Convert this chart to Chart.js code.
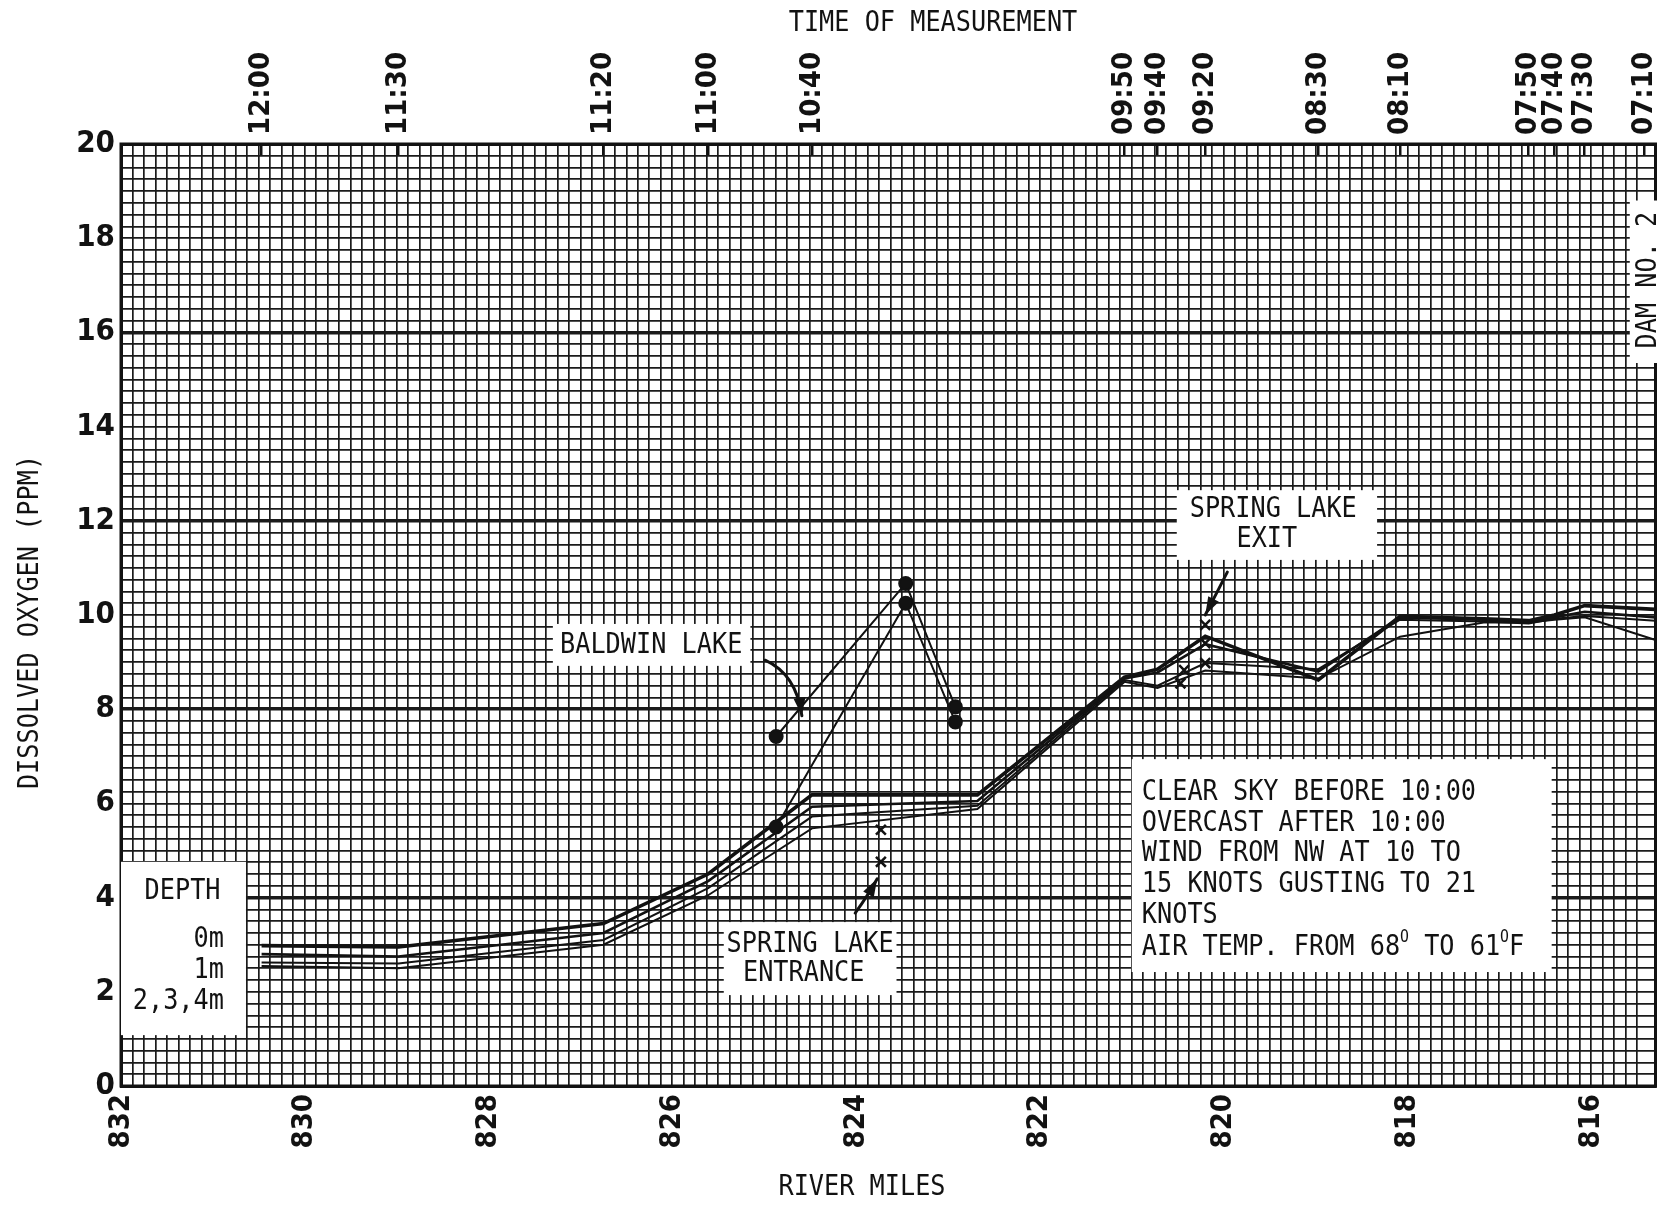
<!DOCTYPE html>
<html>
<head>
<meta charset="utf-8">
<title>Dissolved Oxygen Profile</title>
<script src="https://cdn.jsdelivr.net/npm/chart.js@4.4.1/dist/chart.umd.min.js"></script>
<style>
  html, body { margin: 0; padding: 0; background: #ffffff; }
  canvas { display: block; }
</style>
</head>
<body>
<canvas id="chart" width="1665" height="1205"></canvas>
<script>
// ---- Axis ranges ---------------------------------------------------------
const mileStart = 832;      // upstream end (left)
const mileEnd = 815.3;      // downstream end (right)
const ppmMin = 0;
const ppmMax = 20;

// ---- Time of measurement at each sampling station (top axis) -------------
const timeMiles  = [830.47, 828.98, 826.75, 825.61, 824.48, 821.08, 820.72, 820.20, 818.97, 818.08, 816.68, 816.40, 816.07, 815.42];
const timeLabels = ['12:00', '11:30', '11:20', '11:00', '10:40', '09:50', '09:40', '09:20', '08:30', '08:10', '07:50', '07:40', '07:30', '07:10'];

// ---- Main channel dissolved oxygen (ppm) by depth -------------------------
const lineMiles = [830.47, 828.98, 826.75, 825.61, 824.48, 822.68, 821.08, 820.72, 820.20, 818.97, 818.08, 817.17, 816.68, 816.40, 816.07, 815.30];
const do0m = [2.98, 2.95, 3.45, 4.50, 6.18, 6.18, 8.68, 8.85, 9.55, 8.62, 9.97, 9.92, 9.88, 10.00, 10.20, 10.12];
const do1m = [2.80, 2.75, 3.25, 4.35, 5.93, 6.05, 8.65, 8.78, 9.38, 8.80, 9.95, 9.90, 9.85, 9.95, 10.07, 9.95];
const do2m = [2.62, 2.60, 3.10, 4.20, 5.72, 5.95, 8.62, 8.50, 8.98, 8.85, 9.90, 9.86, 9.82, 9.92, 9.98, 9.88];
const do4m = [2.55, 2.50, 3.00, 4.05, 5.47, 5.88, 8.58, 8.45, 8.82, 8.65, 9.54, 9.84, 9.84, 9.90, 9.95, 9.47];

// ---- Baldwin Lake side samples -------------------------------------------
const baldwinMiles = [824.87, 823.46, 822.92];
const baldwinUpper = [7.42, 10.67, 8.05];
const baldwinLower = [5.50, 10.25, 7.73];

// ---- Spring Lake entrance / exit samples ----------------------------------
const entranceMiles = [823.73, 823.73];
const entranceDO    = [5.44, 4.76];
const exitMiles = [820.20, 820.20, 820.20, 820.43, 820.47];
const exitDO    = [9.79, 9.40, 8.98, 8.83, 8.55];

// ---- Note boxes and pointer arrows, in (river mile, ppm) -----------------
const depthBox    = [832.00, 830.64, 4.76, 1.08];
const baldwinBox  = [827.30, 825.15, 9.81, 8.92];
const exitBox     = [820.51, 818.33, 12.65, 11.17];
const entranceBox = [825.44, 823.56, 3.48, 1.93];
const weatherBox  = [821.00, 816.43, 6.94, 2.42];
const damBox      = [815.58, 815.30, 18.80, 15.35];

const baldwinArrow  = [[824.99, 9.04], [824.72, 8.80], [824.62, 8.30], [824.59, 7.86]];
const exitArrow     = [[819.96, 10.91], [820.08, 10.45], [820.20, 10.00]];
const entranceArrow = [[824.01, 3.67], [823.87, 4.05], [823.77, 4.40]];

const weatherLines = [
  'CLEAR SKY BEFORE 10:00',
  'OVERCAST AFTER 10:00',
  'WIND FROM NW AT 10 TO',
  '15 KNOTS GUSTING TO 21',
  'KNOTS'
];

// ---- Styling --------------------------------------------------------------
const INK = '#121212';
const TICK_FONT = "'Liberation Sans Narrow', 'DejaVu Sans Condensed', 'Liberation Sans', sans-serif";
const NOTE_FONT = "'DejaVu Sans Mono', 'Liberation Mono', monospace";
const NOTE_SIZE = 29;
const NOTE_SX = 0.87;
const TOP_TICK_SIZE = 29;

const pts = (xs, ys) => xs.map((x, i) => ({ x: x, y: ys[i] }));
const near = (a, b) => Math.abs(a - b) < 1e-6;
const isMultiple = (v, m) => near(v / m, Math.round(v / m));

function noteText(ctx, text, x, y, opts = {}) {
  ctx.save();
  ctx.translate(x, y);
  if (opts.rot) ctx.rotate(opts.rot);
  ctx.scale(opts.sx || NOTE_SX, 1);
  ctx.font = (opts.size || NOTE_SIZE) + 'px ' + NOTE_FONT;
  ctx.textAlign = opts.align || 'center';
  ctx.textBaseline = 'middle';
  ctx.fillStyle = INK;
  ctx.fillText(text, 0, 0);
  ctx.restore();
}

// Text with raised small "O" degree marks, drawn left-aligned
function noteRich(ctx, parts, x, y) {
  ctx.save();
  ctx.translate(x, y);
  ctx.scale(NOTE_SX, 1);
  ctx.textBaseline = 'middle';
  ctx.textAlign = 'left';
  ctx.fillStyle = INK;
  let cx = 0;
  parts.forEach(p => {
    const size = p.sup ? 17 : NOTE_SIZE;
    ctx.font = size + 'px ' + NOTE_FONT;
    ctx.fillText(p.t, cx, p.sup ? -9 : 0);
    cx += ctx.measureText(p.t).width;
  });
  ctx.restore();
}

function whiteBox(chart, box) {
  const { x, y } = chart.scales;
  const x0 = x.getPixelForValue(box[0]);
  const x1 = x.getPixelForValue(box[1]);
  const y0 = y.getPixelForValue(box[2]);
  const y1 = y.getPixelForValue(box[3]);
  const ctx = chart.ctx;
  ctx.fillStyle = '#ffffff';
  ctx.fillRect(Math.min(x0, x1), Math.min(y0, y1), Math.abs(x1 - x0), Math.abs(y1 - y0));
}

function arrow(chart, path) {
  const { x, y } = chart.scales;
  const p = path.map(q => [x.getPixelForValue(q[0]), y.getPixelForValue(q[1])]);
  const ctx = chart.ctx;
  ctx.save();
  ctx.strokeStyle = INK;
  ctx.fillStyle = INK;
  ctx.lineWidth = 3;
  ctx.lineCap = 'round';
  ctx.beginPath();
  ctx.moveTo(p[0][0], p[0][1]);
  if (p.length === 4) {
    ctx.bezierCurveTo(p[1][0], p[1][1], p[2][0], p[2][1], p[3][0], p[3][1]);
  } else {
    ctx.quadraticCurveTo(p[1][0], p[1][1], p[2][0], p[2][1]);
  }
  ctx.stroke();
  const a = p[p.length - 2], b = p[p.length - 1];
  const ang = Math.atan2(b[1] - a[1], b[0] - a[0]);
  const L = 18, W = 6;
  ctx.beginPath();
  ctx.moveTo(b[0], b[1]);
  ctx.lineTo(b[0] - L * Math.cos(ang) + W * Math.sin(ang), b[1] - L * Math.sin(ang) - W * Math.cos(ang));
  ctx.lineTo(b[0] - L * Math.cos(ang) - W * Math.sin(ang), b[1] - L * Math.sin(ang) + W * Math.cos(ang));
  ctx.closePath();
  ctx.fill();
  ctx.restore();
}

const notesPlugin = {
  id: 'notes',
  beforeDatasetsDraw(chart) {
    const ctx = chart.ctx;
    const { x, y } = chart.scales;
    const area = chart.chartArea;

    // plot frame
    ctx.save();
    ctx.strokeStyle = INK;
    ctx.lineWidth = 3;
    ctx.strokeRect(area.left, area.top, area.right - area.left, area.bottom - area.top);
    ctx.restore();

    // white note boxes over the grid
    [depthBox, baldwinBox, exitBox, entranceBox, weatherBox].forEach(b => whiteBox(chart, b));
    const dx0 = x.getPixelForValue(damBox[0]);
    const dy0 = y.getPixelForValue(damBox[2]);
    const dy1 = y.getPixelForValue(damBox[3]);
    ctx.fillStyle = '#ffffff';
    ctx.fillRect(dx0, dy0, chart.width - dx0, dy1 - dy0);

    // depth key
    noteText(ctx, 'DEPTH', x.getPixelForValue(831.33), y.getPixelForValue(4.12));
    noteText(ctx, '0m', x.getPixelForValue(830.88), y.getPixelForValue(3.12), { align: 'right' });
    noteText(ctx, '1m', x.getPixelForValue(830.88), y.getPixelForValue(2.46), { align: 'right' });
    noteText(ctx, '2,3,4m', x.getPixelForValue(830.88), y.getPixelForValue(1.80), { align: 'right' });

    // site names
    noteText(ctx, 'BALDWIN LAKE', x.getPixelForValue(826.23), y.getPixelForValue(9.36));
    noteText(ctx, 'SPRING LAKE', x.getPixelForValue(819.46), y.getPixelForValue(12.23));
    noteText(ctx, 'EXIT', x.getPixelForValue(819.53), y.getPixelForValue(11.61));
    noteText(ctx, 'SPRING LAKE', x.getPixelForValue(824.50), y.getPixelForValue(3.01));
    noteText(ctx, 'ENTRANCE', x.getPixelForValue(824.57), y.getPixelForValue(2.38));

    // weather conditions
    const wx = x.getPixelForValue(820.89);
    const wy = [6.24, 5.58, 4.93, 4.27, 3.63];
    weatherLines.forEach((t, i) => noteText(ctx, t, wx, y.getPixelForValue(wy[i]), { align: 'left' }));
    noteRich(ctx, [
      { t: 'AIR TEMP. FROM 68' }, { t: 'O', sup: true },
      { t: ' TO 61' }, { t: 'O', sup: true }, { t: 'F' }
    ], wx, y.getPixelForValue(2.95));

    // dam marker
    noteText(ctx, 'DAM NO. 2', area.right - 7, y.getPixelForValue(17.11), { rot: -Math.PI / 2 });
  },
  afterDatasetsDraw(chart) {
    arrow(chart, baldwinArrow);
    arrow(chart, exitArrow);
    arrow(chart, entranceArrow);
  },
  afterDraw(chart) {
    const ctx = chart.ctx;
    const area = chart.chartArea;
    noteText(ctx, 'TIME OF MEASUREMENT', 933, 23);
    noteText(ctx, 'RIVER MILES', 862, 1187);
    noteText(ctx, 'DISSOLVED OXYGEN (PPM)', 30, (area.top + area.bottom) / 2 + 7, { rot: -Math.PI / 2 });
  }
};

const lineSet = (label, ys, width) => ({
  label: label,
  data: pts(lineMiles, ys),
  showLine: true,
  borderColor: INK,
  borderWidth: width,
  pointRadius: 0,
  tension: 0,
  order: 2
});

const data = {
  datasets: [
    lineSet('0m', do0m, 3.6),
    lineSet('1m', do1m, 2.6),
    lineSet('2m', do2m, 2.0),
    lineSet('4m', do4m, 2.0),
    {
      label: 'Baldwin Lake (upper)',
      data: pts(baldwinMiles, baldwinUpper),
      showLine: true, borderColor: INK, borderWidth: 2,
      pointStyle: 'circle', pointRadius: 6.5, pointBackgroundColor: INK, pointBorderColor: INK,
      order: 1
    },
    {
      label: 'Baldwin Lake (lower)',
      data: pts(baldwinMiles, baldwinLower),
      showLine: true, borderColor: INK, borderWidth: 2,
      pointStyle: 'circle', pointRadius: 6.5, pointBackgroundColor: INK, pointBorderColor: INK,
      order: 1
    },
    {
      label: 'Spring Lake entrance',
      data: pts(entranceMiles, entranceDO),
      showLine: false,
      pointStyle: 'crossRot', pointRadius: 7, borderColor: INK, pointBorderWidth: 2.5,
      order: 1
    },
    {
      label: 'Spring Lake exit',
      data: pts(exitMiles, exitDO),
      showLine: false,
      pointStyle: 'crossRot', pointRadius: 7, borderColor: INK, pointBorderWidth: 2.5,
      order: 1
    }
  ]
};

const gridColor = '#1b1b1b';

new Chart(document.getElementById('chart'), {
  type: 'scatter',
  data: data,
  plugins: [notesPlugin],
  options: {
    responsive: false,
    animation: false,
    devicePixelRatio: 1,
    events: [],
    layout: { padding: { left: 0, right: 9, top: 0, bottom: 0 } },
    plugins: { legend: { display: false }, tooltip: { enabled: false } },
    scales: {
      x: {
        type: 'linear', position: 'bottom',
        min: mileEnd, max: mileStart, reverse: true,
        ticks: {
          stepSize: 0.125, autoSkip: false, minRotation: 90, maxRotation: 90,
          padding: 8, color: INK,
          font: { family: TICK_FONT, size: 29, weight: 'bold' },
          callback: v => isMultiple(v, 2) ? String(Math.round(v)) : ''
        },
        grid: { color: gridColor, lineWidth: 1.7, drawTicks: false },
        border: { display: true, color: INK, width: 3 },
        afterFit: s => { s.height = 119; s.paddingLeft = 0; s.paddingRight = 0; }
      },
      xTop: {
        type: 'linear', position: 'top',
        min: mileEnd, max: mileStart, reverse: true,
        afterBuildTicks: s => { s.ticks = timeMiles.map(v => ({ value: v })); },
        ticks: {
          autoSkip: false, minRotation: 90, maxRotation: 90,
          padding: 21, color: INK,
          // rotated top labels sit one line-height left of their tick; shift them back
          labelOffset: TOP_TICK_SIZE * 1.2,
          font: { family: TICK_FONT, size: TOP_TICK_SIZE, weight: 'bold' },
          callback: v => {
            const i = timeMiles.findIndex(m => near(m, v));
            return i >= 0 ? timeLabels[i] : '';
          }
        },
        grid: { drawOnChartArea: false, drawTicks: true, tickLength: -12, color: INK, lineWidth: 2.5 },
        border: { display: true, color: INK, width: 3 },
        afterFit: s => { s.height = 144; s.paddingLeft = 0; s.paddingRight = 0; }
      },
      y: {
        type: 'linear', position: 'left',
        min: ppmMin, max: ppmMax,
        ticks: {
          stepSize: 0.25, autoSkip: false, padding: 6, color: INK,
          font: { family: TICK_FONT, size: 31, weight: 'bold' },
          callback: v => isMultiple(v, 2) ? String(Math.round(v)) : ''
        },
        grid: {
          color: gridColor, drawTicks: false,
          lineWidth: c => (c.tick && isMultiple(c.tick.value, 4) && c.tick.value > 0 && c.tick.value < 20) ? 3.4 : 1.7
        },
        border: { display: true, color: INK, width: 3 },
        afterFit: s => { s.width = 121; s.paddingTop = 0; s.paddingBottom = 0; }
      }
    }
  }
});
</script>
</body>
</html>
